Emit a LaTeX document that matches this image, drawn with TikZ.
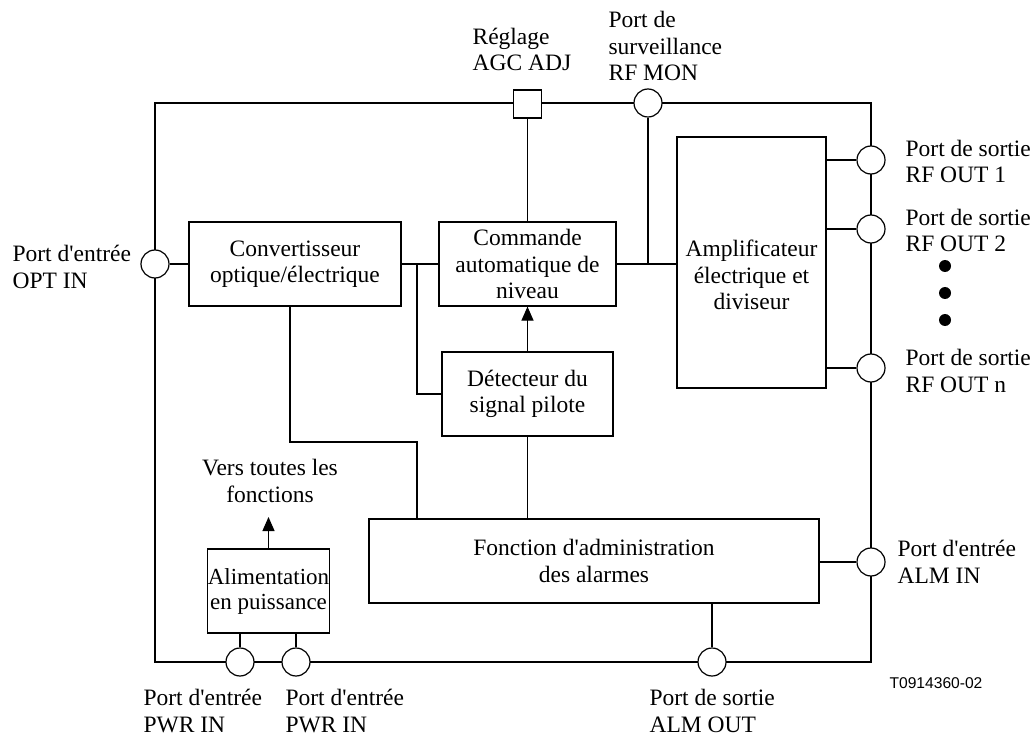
\documentclass[tikz,border=0pt]{standalone}
\usepackage{fontspec}
\setmainfont{Liberation Serif}
\newfontfamily\arialfont{Liberation Sans}
\usetikzlibrary{arrows.meta}
\newcommand{\apos}{\textquotesingle}
\begin{document}
\begin{tikzpicture}[x=1pt,y=-1pt, line width=1.2pt,
  txt/.style={inner sep=0pt, align=center, font=\fontsize{23.5}{26.5}\selectfont},
  box/.style={draw, txt},
  lbl/.style={inner sep=0pt, align=left, anchor=base west, font=\fontsize{23.5}{26.5}\selectfont},
  port/.style={draw, circle, fill=white, minimum size=28pt, inner sep=0pt},
  sq/.style={draw, fill=white, minimum size=28pt, inner sep=0pt},
  tip/.style={-{Triangle[length=14pt,width=12pt]}},
  dot/.style={circle, fill=black, minimum size=12pt, inner sep=0pt}]
\fill[white] (0,0) rectangle (1034,738);
\useasboundingbox (0,0) rectangle (1034,738);
% frame
\draw (155,103) rectangle (871,662);
% blocks
\node[box, minimum width=212pt, minimum height=84pt] (conv) at (295,264) {Convertisseur\\optique/électrique};
\node[box, minimum width=177pt, minimum height=84pt] (cmd) at (527.5,264) {Commande\\automatique de\\niveau};
\node[box, minimum width=171pt, minimum height=84pt] (det) at (527.5,394) {Détecteur du\\signal pilote};
\node[box, minimum width=149pt, minimum height=251pt] (amp) at (751.5,262.5) {};
\node[txt] (amptxt) at (751.5,275) {Amplificateur\\électrique et\\diviseur};
\node[box, minimum width=450pt, minimum height=84pt] (alm) at (594,561) {Fonction d\apos administration\\des alarmes};
\node[box, minimum width=121pt, minimum height=84pt, font=\fontsize{23}{25}\selectfont] (pwr) at (268.5,591) {Alimentation\\en puissance};
% ports
\node[sq] (agc) at (527.5,104) {};
\node[port] (mon) at (648,103) {};
\node[port] (optin) at (155,264) {};
\node[port] (out1) at (871,160) {};
\node[port] (out2) at (871,229) {};
\node[port] (outn) at (871,368) {};
\node[port] (almin) at (871,562) {};
\node[port] (almout) at (712,662) {};
\node[port] (pwr1) at (240,662) {};
\node[port] (pwr2) at (296,662) {};
% connectors
\coordinate (j1) at (417,264);
\coordinate (j2) at (648,264);
\coordinate (c1) at (290,442);
\coordinate (vt) at (268.5,517);
\draw (optin) -- (conv);
\draw (conv) -- (cmd);
\draw (j1) -- (j1 |- det.west) -- (det.west);
\draw (cmd.east) -- (cmd.east -| amp.west);
\draw (j2) -- (mon);
\draw (agc) -- (cmd);
\draw[tip] (det) -- (cmd);
\draw (det) -- (det.south |- alm.north);
\draw (c1 |- conv.south) -- (c1) -- (c1 -| j1) -- (j1 |- alm.north);
\draw (almin) -- (almin -| alm.east);
\draw (alm.south -| almout) -- (almout);
\draw (out1) -- (out1 -| amp.east);
\draw (out2) -- (out2 -| amp.east);
\draw (outn) -- (outn -| amp.east);
\draw (pwr.south -| pwr1) -- (pwr1);
\draw (pwr.south -| pwr2) -- (pwr2);
\draw[tip] (pwr) -- (vt);
% dots
\node[dot] (d1) at (945,266) {};
\node[dot] (d2) at (945,293) {};
\node[dot] (d3) at (945,320) {};
% labels (anchored at the baseline of the last line)
\node[lbl] (lagc) at (472,71) {Réglage\\AGC ADJ};
\node[lbl] (lmon) at (608,81) {Port de\\surveillance\\RF MON};
\node[lbl] (lopt) at (12,288) {Port d\apos entrée\\OPT IN};
\node[lbl] (lout1) at (905,183) {Port de sortie\\RF OUT 1};
\node[lbl] (lout2) at (905,252) {Port de sortie\\RF OUT 2};
\node[lbl] (loutn) at (905,392) {Port de sortie\\RF OUT n};
\node[lbl] (lalmin) at (897,583) {Port d\apos entrée\\ALM IN};
\node[lbl] (lalmout) at (649,732) {Port de sortie\\ALM OUT};
\node[lbl] (lpwr1) at (143,732) {Port d\apos entrée\\PWR IN};
\node[lbl] (lpwr2) at (285,732) {Port d\apos entrée\\PWR IN};
\node[txt, anchor=base] (lvers) at (270,502) {Vers toutes les\\fonctions};
\node[inner sep=0pt, font=\arialfont\fontsize{15.6}{18}\selectfont] (code) at (936,683) {T0914360-02};
\end{tikzpicture}
\end{document}
